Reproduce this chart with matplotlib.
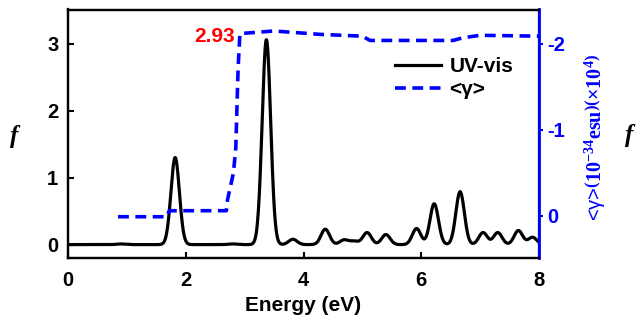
import numpy as np
import matplotlib
matplotlib.use("Agg")
import matplotlib.pyplot as plt

plt.rcParams['font.family'] = ['Liberation Sans', 'DejaVu Sans']
plt.rcParams['font.weight'] = 'bold'
plt.rcParams['mathtext.fontset'] = 'custom'
plt.rcParams['mathtext.rm'] = 'Liberation Serif'
plt.rcParams['mathtext.it'] = 'Liberation Serif:italic'

# UV-vis transitions (energy eV, oscillator strength f)
trans_E = [0.90, 1.82, 2.80, 3.37, 3.82, 4.37, 4.69, 4.86, 5.08, 5.40, 5.92, 6.22, 6.66, 7.05, 7.30, 7.65, 7.89]
trans_f = [0.01, 1.30, 0.01, 3.06, 0.08, 0.23, 0.07, 0.05, 0.18, 0.15, 0.24, 0.61, 0.79, 0.18, 0.18, 0.21, 0.11]
broadening = 0.072

# <gamma> values (energy eV, 10^-34 esu x10^4)
gam_E = [0.85, 1.68, 1.72, 2.69, 2.71, 2.81, 2.85, 2.87, 2.89, 2.92, 3.50, 4.30, 5.00, 5.13, 6.54, 6.70, 7.00, 8.00]
gam_v = [0.01, 0.01, -0.06, -0.06, -0.19, -0.50, -0.79, -1.27, -1.73, -2.12, -2.15, -2.11, -2.09, -2.04, -2.04, -2.07, -2.10, -2.09]

E = np.linspace(0, 8, 1600)
spec = np.zeros_like(E)
for e0, f0 in zip(trans_E, trans_f):
    spec += f0 * np.exp(-0.5 * ((E - e0) / broadening) ** 2)

fig = plt.figure(figsize=(6.41, 3.24), dpi=100)
ax = fig.add_axes([68/641, 1-258/324, (539-68)/641, (258-9.5)/324])
ax2 = ax.twinx()

l1, = ax.plot(E, spec, color='black', lw=2.3, label='UV-vis')
l2, = ax2.plot(gam_E, gam_v, color='blue', lw=2.6, ls=(0, (3.0, 1.8)), label='<γ>')

ax.set_xlim(0, 8)
ax.set_ylim(-0.2, 3.51)
ax2.set_ylim(0.49, -2.40)

ax.set_xticks([0, 2, 4, 6, 8])
ax.set_yticks([0, 1, 2, 3])
ax2.set_yticks([-2, -1, 0])
ax2.set_yticklabels(['-2', '-1', '0'])

for sp in ax.spines.values():
    sp.set_linewidth(1.6)
for sp in ax2.spines.values():
    sp.set_linewidth(1.6)
ax2.spines['right'].set_color('blue')
ax2.spines['right'].set_linewidth(2.0)

ax.tick_params(axis='x', direction='in', length=4, width=1.5, labelsize=14.5, pad=9)
ax.tick_params(axis='y', direction='in', length=4, width=1.5, labelsize=14.5, pad=7)
ax2.tick_params(axis='y', direction='out', length=3, width=1.5, colors='blue', labelsize=14.5, pad=3)
for t in ax.get_xticklabels() + ax.get_yticklabels():
    t.set_fontweight('bold')
for t in ax2.get_yticklabels():
    t.set_fontweight('bold')

ax.set_xlabel('Energy (eV)', fontsize=15, fontweight='bold', labelpad=5)

ax2.text(2.84, -2.09, '2.93', color='red', fontsize=15, fontweight='bold', ha='right', va='center')

leg = ax.legend([l1, l2], ['UV-vis', '<γ>'], loc='upper right', bbox_to_anchor=(0.985, 0.885),
                frameon=False, handlelength=2.2, handletextpad=0.4,
                labelspacing=0.2, prop={'weight': 'bold', 'size': 15})

fig.text(15/641, 1-137/324, r'$f$', fontsize=18, ha='center', va='center')
fig.text(630/641, 1-135/324, r'$f$', fontsize=18, ha='center', va='center')
fig.text(595/641, 1-137/324,
         r'<γ>$\left(10^{-34}\mathrm{esu}\right)\left(\times10^{4}\right)$',
         color='blue', fontsize=14.5, rotation=90, ha='center', va='center', fontweight='normal')

fig.savefig('out.png', dpi=100)
